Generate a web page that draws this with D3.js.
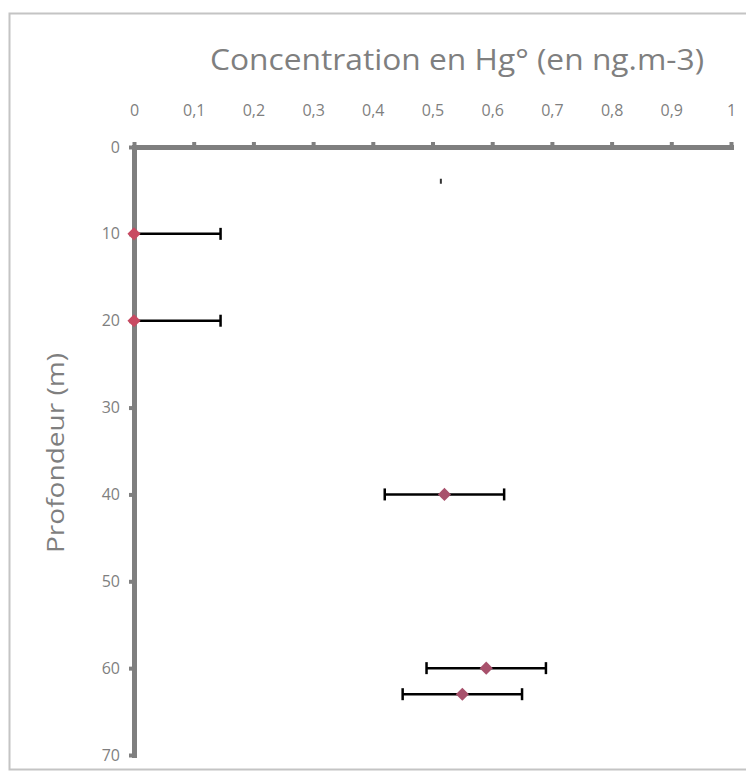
<!DOCTYPE html>
<html>
<head>
<meta charset="utf-8">
<script src="https://cdn.jsdelivr.net/npm/d3@7"></script>
<style>
  html, body { margin: 0; padding: 0; background: #fff; }
  svg { display: block; }
</style>
</head>
<body>
<div id="grafico"></div>
<script>
// Datos
var profondeurs = [10, 20, 40, 60, 63];
var concentrations = [0, 0, 0.52, 0.59, 0.55];
var erreurMoins = [0, 0, 0.1, 0.1, 0.1];
var erreurPlus = [0.145, 0.145, 0.1, 0.1, 0.1];
var ticksX = [0, 0.1, 0.2, 0.3, 0.4, 0.5, 0.6, 0.7, 0.8, 0.9, 1];
var ticksY = [0, 10, 20, 30, 40, 50, 60, 70];
// petite marque isolee (barre d'erreur sans marqueur)
var marqueIsolee = [[0.514, 4]];
var titre = 'Concentration en Hg° (en ng.m-3)';
var titreY = 'Profondeur (m)';

var width = 746, height = 772;
var gris = '#7f7f7f';
var police = '"Open Sans", "DejaVu Sans", sans-serif';

var svg = d3.select('#grafico').append('svg')
    .attr('width', width)
    .attr('height', height);

// cadre
svg.append('rect')
    .attr('x', 9.5).attr('y', 13.5)
    .attr('width', 760).attr('height', 756)
    .attr('fill', 'none')
    .attr('stroke', '#c4c4c4')
    .attr('stroke-width', 2);

// ---------ESCALAS------------
var x = d3.scaleLinear().domain([0, 1]).range([134, 731]);
var y = d3.scaleLinear().domain([0, 70]).range([147, 755]);

var fr = d3.formatLocale({ decimal: ',', thousands: ' ', grouping: [3], currency: ['', ' €'] });
var fmt = function (d) { return d === 0 || d === 1 ? String(d) : fr.format('.1f')(d); };

// eje X (arriba)
var gx = svg.append('g')
    .attr('transform', 'translate(0,' + y(0) + ')')
    .call(d3.axisTop(x).tickValues(ticksX).tickFormat(fmt).tickSize(5).tickSizeOuter(0).tickPadding(26));
gx.select('.domain').attr('stroke', gris).attr('stroke-width', 5).attr('stroke-linecap', 'square');
gx.selectAll('.tick line').attr('stroke', gris).attr('stroke-width', 4);
gx.selectAll('.tick text').attr('fill', gris).attr('font-family', police)
    .attr('font-size', 16);

// eje Y (izquierda)
var gy = svg.append('g')
    .attr('transform', 'translate(' + x(0) + ',0)')
    .call(d3.axisLeft(y).tickValues(ticksY).tickSize(5).tickSizeOuter(0).tickPadding(9));
gy.select('.domain').attr('stroke', gris).attr('stroke-width', 5).attr('stroke-linecap', 'square');
gy.selectAll('.tick line').attr('stroke', gris).attr('stroke-width', 4);
gy.selectAll('.tick text').attr('fill', gris).attr('font-family', police)
    .attr('font-size', 16);

// titulos
svg.append('text')
    .attr('x', 457).attr('y', 70)
    .attr('text-anchor', 'middle')
    .attr('font-family', police)
    .attr('font-size', 29)
    .attr('textLength', 494)
    .attr('lengthAdjust', 'spacingAndGlyphs')
    .attr('fill', gris)
    .text(titre);

svg.append('text')
    .attr('transform', 'translate(64,453) rotate(-90)')
    .attr('text-anchor', 'middle')
    .attr('font-family', police)
    .attr('font-size', 24)
    .attr('textLength', 200)
    .attr('lengthAdjust', 'spacingAndGlyphs')
    .attr('fill', gris)
    .text(titreY);

// datos
var datos = profondeurs.map(function (p, i) {
    return { p: p, c: concentrations[i], lo: concentrations[i] - erreurMoins[i], hi: concentrations[i] + erreurPlus[i] };
});

var barras = svg.append('g').attr('stroke', '#000').attr('stroke-width', 2.5);
barras.selectAll('line.h').data(datos).enter().append('line')
    .attr('x1', function (d) { return x(d.lo); })
    .attr('x2', function (d) { return x(d.hi); })
    .attr('y1', function (d) { return y(d.p); })
    .attr('y2', function (d) { return y(d.p); });
barras.selectAll('line.cap').data(datos.filter(function (d) { return d.hi > d.c; })).enter().append('line')
    .attr('x1', function (d) { return x(d.hi); })
    .attr('x2', function (d) { return x(d.hi); })
    .attr('y1', function (d) { return y(d.p) - 6; })
    .attr('y2', function (d) { return y(d.p) + 6; });
barras.selectAll('line.capl').data(datos.filter(function (d) { return d.lo < d.c; })).enter().append('line')
    .attr('x1', function (d) { return x(d.lo); })
    .attr('x2', function (d) { return x(d.lo); })
    .attr('y1', function (d) { return y(d.p) - 6; })
    .attr('y2', function (d) { return y(d.p) + 6; });

svg.selectAll('rect.marque').data(marqueIsolee).enter().append('rect')
    .attr('x', function (d) { return x(d[0]) - 1; })
    .attr('y', function (d) { return y(d[1]) - 3; })
    .attr('width', 2).attr('height', 5)
    .attr('fill', '#333');

svg.append('g').selectAll('path').data(datos).enter().append('path')
    .attr('d', d3.symbol().type(d3.symbolDiamond2).size(110))
    .attr('transform', function (d) { return 'translate(' + x(d.c) + ',' + y(d.p) + ')'; })
    .attr('fill', function (d) { return d.c === 0 ? '#c94a62' : '#a8516c'; });
</script>
</body>
</html>
